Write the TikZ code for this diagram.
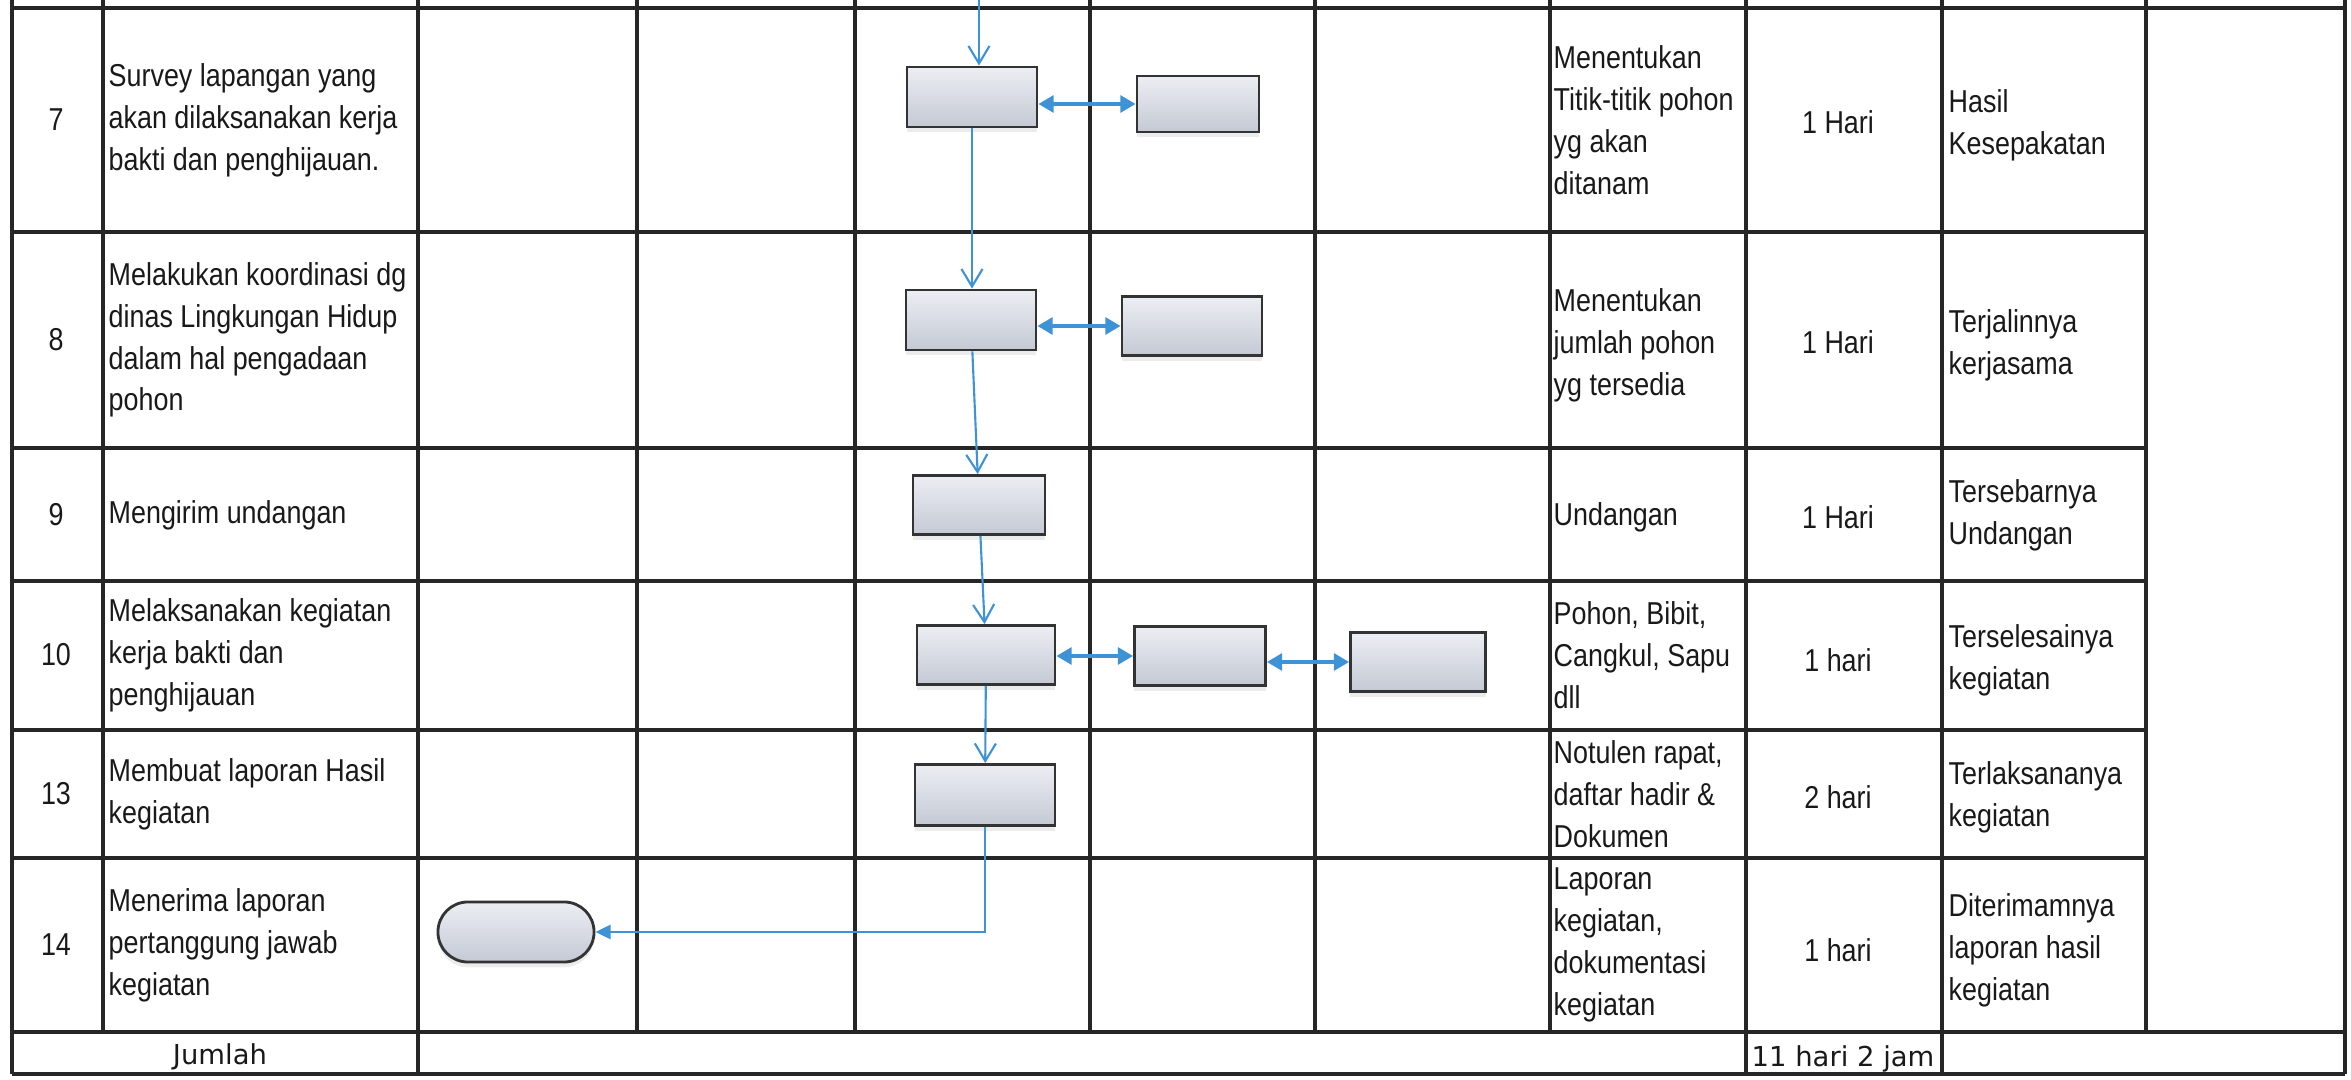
\documentclass[tikz,border=0pt]{standalone}
\usepackage{fontspec}
\setmainfont{Liberation Sans}[FakeStretch=0.85]
\newfontfamily\sumfont{DejaVu Sans}
\usetikzlibrary{arrows.meta,shadows}

\definecolor{flowblue}{RGB}{62,146,214}
\definecolor{boxtop}{RGB}{236,238,243}
\definecolor{boxbot}{RGB}{196,201,212}

\begin{document}
\begin{tikzpicture}[x=0.01cm,y=-0.01cm,
    grid/.style={line width=0.9pt,draw=black!85},
    txt/.style={inner sep=0pt,align=left,anchor=west,font=\fontsize{9}{11.9}\selectfont,text=black!90},
    mid/.style={inner sep=0pt,align=center,font=\fontsize{9}{11.9}\selectfont,text=black!90},
    sum/.style={inner sep=0pt,font=\sumfont\fontsize{7.8}{9}\selectfont,text=black!90},
    proc/.style={draw=black!80,line width=0.8pt,top color=boxtop,bottom color=boxbot,
        minimum height=0.6cm,minimum width=1.3cm,inner sep=0pt,
        drop shadow={opacity=0.15,shadow xshift=0pt,shadow yshift=-1.5pt}},
    flow/.style={draw=flowblue,line width=0.6pt,-{Straight Barb[length=5pt,width=6pt]}},
    link/.style={draw=flowblue,line width=0.9pt,{Triangle[length=4.3pt,width=4.8pt]}-{Triangle[length=4.3pt,width=4.8pt]}},
    back/.style={draw=flowblue,line width=0.7pt,-{Triangle[length=4.3pt,width=4pt]}}]

    \useasboundingbox (0,0) rectangle (2351,1080);

    % table lines
    \draw[grid] (12,8) -- (2345,8);
    \foreach \y in {232,448,581,730,858}
        \draw[grid] (12,\y) -- (2146,\y);
    \draw[grid] (12,1032) -- (2345,1032);
    \draw[grid] (12,1074) -- (2345,1074);
    \foreach \x in {103,637,855,1090,1315,1550,2146}
        \draw[grid] (\x,0) -- (\x,1032);
    \foreach \x in {12,418,1746,1942,2345}
        \draw[grid] (\x,0) -- (\x,1074);

    % numbers
    \foreach \n/\y in {7/120,8/340,9/515,10/655,13/794,14/945}
        \node[mid] (no\n) at (56,\y) {\n};

    % activities
    \node[txt] (act7) at (108,120) {Survey lapangan yang\\akan dilaksanakan kerja\\bakti dan penghijauan.};
    \node[txt] (act8) at (108,340) {Melakukan koordinasi dg\\dinas Lingkungan Hidup\\dalam hal pengadaan\\pohon};
    \node[txt] (act9) at (108,515) {Mengirim undangan};
    \node[txt] (act10) at (108,655) {Melaksanakan kegiatan\\kerja bakti dan\\penghijauan};
    \node[txt] (act13) at (108,794) {Membuat laporan Hasil\\kegiatan};
    \node[txt] (act14) at (108,945) {Menerima laporan\\pertanggung jawab\\kegiatan};

    % materials
    \node[txt] (mat7) at (1553,120) {Menentukan\\Titik-titik pohon\\yg akan\\ditanam};
    \node[txt] (mat8) at (1553,345) {Menentukan\\jumlah pohon\\yg tersedia};
    \node[txt] (mat9) at (1553,517) {Undangan};
    \node[txt] (mat10) at (1553,655) {Pohon, Bibit,\\Cangkul, Sapu\\dll};
    \node[txt] (mat13) at (1553,794) {Notulen rapat,\\daftar hadir \&\\Dokumen};
    \node[txt] (mat14) at (1553,945) {Laporan\\kegiatan,\\dokumentasi\\kegiatan};

    % time
    \node[mid] (time7) at (1838,122) {1 Hari};
    \node[mid] (time8) at (1838,342) {1 Hari};
    \node[mid] (time9) at (1838,517) {1 Hari};
    \node[mid] (time10) at (1838,660) {1 hari};
    \node[mid] (time13) at (1838,797) {2 hari};
    \node[mid] (time14) at (1838,950) {1 hari};

    % output
    \node[txt] (out7) at (1948,125) {Hasil\\Kesepakatan};
    \node[txt] (out8) at (1948,345) {Terjalinnya\\kerjasama};
    \node[txt] (out9) at (1948,515) {Tersebarnya\\Undangan};
    \node[txt] (out10) at (1948,660) {Terselesainya\\kegiatan};
    \node[txt] (out13) at (1948,797) {Terlaksananya\\kegiatan};
    \node[txt] (out14) at (1948,950) {Diterimamnya\\laporan hasil\\kegiatan};

    % total row
    \node[sum] (jumlah) at (220,1057) {Jumlah};
    \node[sum,anchor=west] (total) at (1751,1059) {11 hari 2 jam};

    % flow boxes
    \node[proc] (A) at (972,97) {};
    \node[proc,minimum width=1.22cm,minimum height=0.56cm] (B) at (1198,104) {};
    \node[proc] (C) at (971,320) {};
    \node[proc,minimum width=1.40cm,minimum height=0.59cm] (D) at (1192,326) {};
    \node[proc,minimum width=1.32cm,minimum height=0.59cm] (E) at (979,505) {};
    \node[proc,minimum width=1.38cm,minimum height=0.59cm] (F) at (986,655) {};
    \node[proc,minimum width=1.31cm,minimum height=0.59cm] (G) at (1200,656) {};
    \node[proc,minimum width=1.35cm,minimum height=0.59cm] (H) at (1418,662) {};
    \node[proc,minimum width=1.40cm,minimum height=0.61cm] (I) at (985,795) {};
    \node[proc,minimum width=1.56cm,rounded corners=8.5pt] (J) at (516,932) {};
    \coordinate (in7) at (979,0);

    % connectors
    \draw[flow] (in7) -- (in7 |- A.north);
    \draw[flow] (A.south) -- (A.south |- C.north);
    \draw[flow] (C) -- (E);
    \draw[flow] (E) -- (F);
    \draw[flow] (F) -- (I);
    \draw[back] (I.south) |- (J.east);
    \draw[link] (B.west -| A.east) -- (B.west);
    \draw[link] (D.west -| C.east) -- (D.west);
    \draw[link] (G.west -| F.east) -- (G.west);
    \draw[link] (H.west -| G.east) -- (H.west);
\end{tikzpicture}
\end{document}
